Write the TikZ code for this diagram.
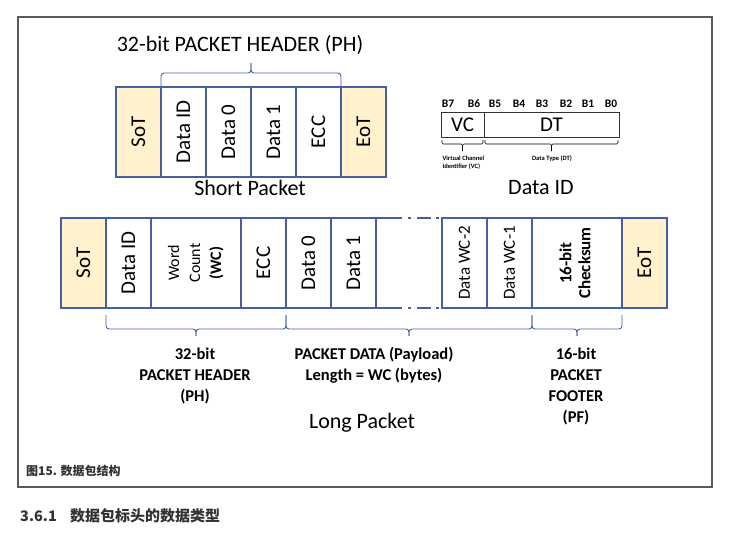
\documentclass[tikz,border=0pt]{standalone}
\usepackage{fontspec}
\setmainfont{Carlito}
\newfontfamily\cjk{Noto Sans CJK SC}
\usetikzlibrary{positioning,calc}

\definecolor{pktblue}{RGB}{68,96,162}
\definecolor{sotfill}{RGB}{255,242,204}
\definecolor{framegray}{RGB}{90,90,90}
\definecolor{capgray}{RGB}{50,50,50}
\newcommand{\fsz}[2]{\fontsize{#1}{#2}\selectfont}

\tikzset{
  cell/.style={draw=pktblue, line width=1.1pt, minimum width=#1, minimum height=90pt,
    inner sep=0pt, outer sep=0pt, font=\fsz{21}{24}},
  cell/.default=45pt,
  sotcell/.style={cell, fill=sotfill},
  pbrace/.style={draw=pktblue, line width=0.9pt, rounded corners=3pt},
  bbrace/.style={draw=black, line width=0.6pt, rounded corners=1.2pt},
  gapline/.style={draw=pktblue, line width=1.1pt,
    dash pattern=on 26pt off 6pt on 3pt off 6pt on 14pt off 5pt on 3pt off 4pt},
  idbox/.style={draw=black!80, line width=0.8pt, minimum height=25pt,
    inner sep=0pt, outer sep=0pt, font=\fsz{21}{24}},
  bitlbl/.style={font=\bfseries\fsz{11.5}{13}},
  lbl/.style={font=\bfseries\fsz{16.5}{21}, align=center, anchor=north},
  title/.style={font=\fsz{22}{26}}
}

% brace: style, left end, right end, leg, tip
\newcommand{\pktbrace}[5]{%
  \coordinate (bm) at ($(#2)!.5!(#3)$);
  \draw[#1] (#2) -- ++(0,#4) -| ($(bm)+(0,#4)+(0,#5)$);
  \draw[#1] (#3) -- ++(0,#4) -| ($(bm)+(0,#4)+(0,#5)$);
}

\begin{document}
\begin{tikzpicture}[x=1pt,y=-1pt]
  \useasboundingbox (0,0) rectangle (733,536);
  \draw[framegray, line width=1.3pt] (18,17) rectangle (712,487);

  % short packet
  \node[sotcell] (ssot) at (138.5,132) {\rotatebox{90}{SoT}};
  \node[cell, right=0pt of ssot] (sdid) {\rotatebox{90}{Data ID}};
  \node[cell, right=0pt of sdid] (sd0) {\rotatebox{90}{Data 0}};
  \node[cell, right=0pt of sd0] (sd1) {\rotatebox{90}{Data 1}};
  \node[cell, right=0pt of sd1] (secc) {\rotatebox{90}{ECC}};
  \node[sotcell, right=0pt of secc] (seot) {\rotatebox{90}{EoT}};
  \pktbrace{pbrace}{sdid.north west}{secc.north east}{-14}{-10}
  \node[title] (sph) at (240,45) {32-bit PACKET HEADER (PH)};
  \node[title] (sname) at (250,188) {Short Packet};

  % data id
  \node[idbox, minimum width=43pt] (vc) at (462.5,124.5) {VC};
  \node[idbox, minimum width=135pt, right=0pt of vc] (dt) {DT};
  \foreach \b/\x in {7/448,6/474,5/495,4/519,3/542,2/566,1/588,0/611}
    \node[bitlbl] (b\b) at (\x,104) {B\b};
  \pktbrace{bbrace}{$(vc.south west)+(1,3)$}{$(vc.south east)+(-1,3)$}{4}{7}
  \pktbrace{bbrace}{$(dt.south west)+(1,3)$}{$(dt.south east)+(-1,3)$}{4}{7}
  \node[font=\bfseries\fsz{6.5}{8}, align=left, anchor=north west] (vclbl) at (439,152)
    {Virtual Channel\\Identifier (VC)};
  \node[font=\bfseries\fsz{6.5}{8}, anchor=north] (dtlbl) at (552,152) {Data Type (DT)};
  \node[font=\fsz{22}{26}] (didt) at (541,188) {Data ID};

  % long packet
  \node[sotcell] (lsot) at (83.5,263) {\rotatebox{90}{SoT}};
  \node[cell, right=0pt of lsot] (ldid) {\rotatebox{90}{Data ID}};
  \node[cell=90pt, right=0pt of ldid] (lwc) {\rotatebox{90}{\fsz{16}{21}%
    \begin{tabular}{@{}c@{}}Word\\Count\\\textbf{(WC)}\end{tabular}}};
  \node[cell, right=0pt of lwc] (lecc) {\rotatebox{90}{ECC}};
  \node[cell, right=0pt of lecc] (ld0) {\rotatebox{90}{Data 0}};
  \node[cell, right=0pt of ld0] (ld1) {\rotatebox{90}{Data 1}};
  \node[cell, right=66pt of ld1] (lwc2) {\rotatebox{90}{\fsz{17}{20}Data WC-2}};
  \node[cell, right=0pt of lwc2] (lwc1) {\rotatebox{90}{\fsz{17}{20}Data WC-1}};
  \node[cell=90pt, right=0pt of lwc1] (lcrc) {\rotatebox{90}{\bfseries\fsz{17}{19}%
    \begin{tabular}{@{}c@{}}16-bit\\Checksum\end{tabular}}};
  \node[sotcell, right=0pt of lcrc] (leot) {\rotatebox{90}{EoT}};
  \draw[gapline] (ld1.north east) -- (lwc2.north west);
  \draw[gapline] (ld1.south east) -- (lwc2.south west);

  \coordinate (p1) at ($(ldid.south west)+(0,7)$);
  \coordinate (p2) at ($(ld0.south west)+(0,7)$);
  \coordinate (p3) at ($(lcrc.south west)+(0,7)$);
  \coordinate (p4) at ($(lcrc.south east)+(0,7)$);
  \pktbrace{pbrace}{p1}{p2}{14}{7}
  \pktbrace{pbrace}{p2}{p3}{14}{7}
  \pktbrace{pbrace}{p3}{p4}{14}{7}
  \node[lbl] (lph) at (195,344) {32-bit\\PACKET HEADER\\(PH)};
  \node[lbl] (lpd) at (374,344) {PACKET DATA (Payload)\\Length = WC (bytes)};
  \node[lbl] (lpf) at (576,344) {16-bit\\PACKET\\FOOTER\\(PF)};
  \node[title] (lname) at (362,423) {Long Packet};

  % caption
  \node[anchor=west, inner sep=0pt, text=capgray, font=\cjk\bfseries\fsz{12}{14}] (cap)
    at (26,471) {图15. 数据包结构};
  \node[anchor=west, inner sep=0pt, text=capgray, font=\cjk\bfseries\fsz{14.5}{17}] (secno)
    at (20,516) {3.6.1};
  \node[anchor=west, inner sep=0pt, text=capgray, font=\cjk\bfseries\fsz{15}{17}] (sectitle)
    at (70,516) {数据包标头的数据类型};
\end{tikzpicture}
\end{document}
